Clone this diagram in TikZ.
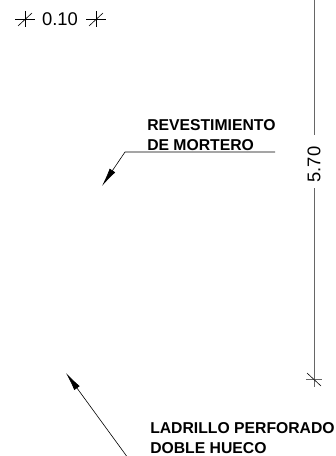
\documentclass[tikz,border=0pt]{standalone}
\usepackage{fontspec}
\setmainfont{Liberation Sans}
\usetikzlibrary{arrows.meta}
\tikzset{
  dimline/.style={draw=black!60, line width=0.75pt},
  tickline/.style={draw=black, line width=0.45pt},
  leader/.style={draw=black, line width=0.45pt},
  leaderarrow/.style={leader, -{Latex[length=14pt, width=5pt]}},
  notetext/.style={align=left, anchor=north west, inner sep=0pt, font=\bfseries\fontsize{11.8pt}{15.2pt}\selectfont},
  dimtext/.style={inner sep=0pt, font=\fontsize{13.8pt}{15pt}\selectfont}
}
\begin{document}
\begin{tikzpicture}[x=0.75pt, y=-0.75pt]
    \useasboundingbox (0,0) rectangle (335,456);
    \clip (0,0) rectangle (335,456);
    % Horizontal dimension with its two ticks
    \node[dimtext] (width) at (60,19) {0.10};
    \foreach \x in {25,96} {
        \draw[tickline] (\x-10,19) -- (\x+10,19);
        \draw[tickline] (\x,11) -- (\x,27);
        \draw[tickline] (\x-7,26) -- (\x+7,13);
    }
    % Vertical dimension
    \node[dimtext, rotate=90] (height) at (314,164.5) {5.70};
    \coordinate (topend) at (314,-2);
    \coordinate (gaptop) at (314,135);
    \coordinate (gaplow) at (314,188);
    \coordinate (lowend) at (314,387);
    \draw[dimline] (topend) -- (gaptop);
    \draw[dimline] (gaplow) -- (lowend);
    \draw[dimline] (306,379) -- (322,379);
    \draw[tickline] (307,373) -- (321,386);
    % Labels and leaders
    \node[notetext] (mortero) at (147,119) {REVESTIMIENTO\\DE MORTERO};
    \coordinate (shelfend) at (275,152);
    \coordinate (shelfbend) at (125,152);
    \coordinate (mortip) at (102,186);
    \draw[leaderarrow] (shelfend) -- (shelfbend) -- (mortip);
    \node[notetext] (ladrillo) at (150,422) {LADRILLO PERFORADO\\DOBLE HUECO};
    \coordinate (ladstart) at (128,458);
    \coordinate (ladtip) at (66,373);
    \draw[leaderarrow] (ladstart) -- (ladtip);
\end{tikzpicture}
\end{document}
